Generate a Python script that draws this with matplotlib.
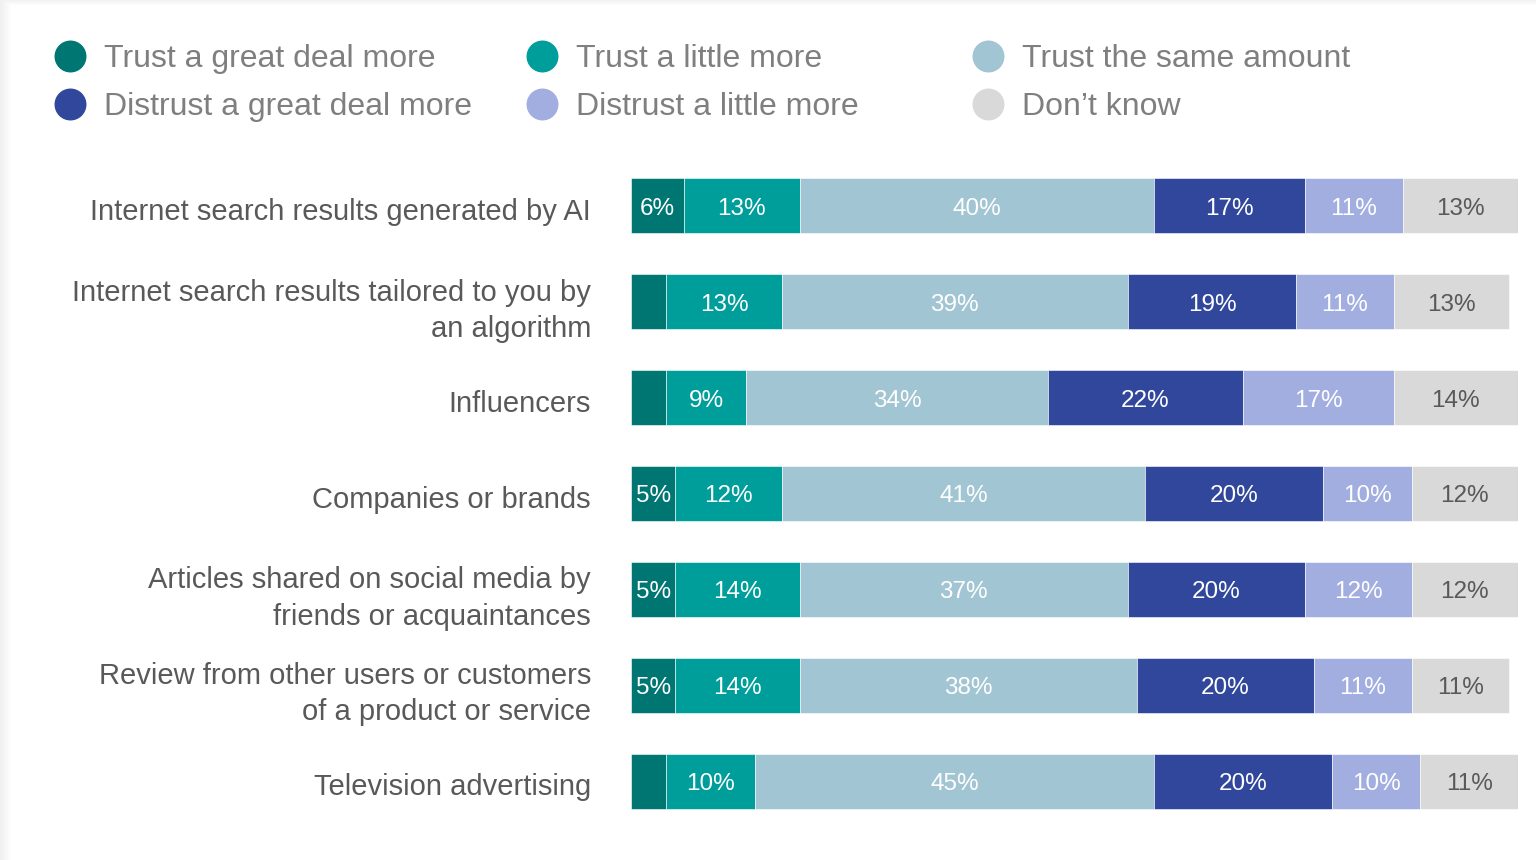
import numpy as np
import matplotlib
matplotlib.use("Agg")
import matplotlib.pyplot as plt
import matplotlib.transforms as mtransforms
from matplotlib.lines import Line2D

plt.rcParams['font.family'] = ['Liberation Sans', 'DejaVu Sans']

categories = [
    "Internet search results generated by AI",
    "Internet search results tailored to you by\nan algorithm",
    "Influencers",
    "Companies or brands",
    "Articles shared on social media by\nfriends or acquaintances",
    "Review from other users or customers\nof a product or service",
    "Television advertising",
]

series_names = [
    "Trust a great deal more",
    "Trust a little more",
    "Trust the same amount",
    "Distrust a great deal more",
    "Distrust a little more",
    "Don\u2019t know",
]

trust_great = [6, 4, 4, 5, 5, 5, 4]
trust_little = [13, 13, 9, 12, 14, 14, 10]
trust_same = [40, 39, 34, 41, 37, 38, 45]
distrust_great = [17, 19, 22, 20, 20, 20, 20]
distrust_little = [11, 11, 17, 10, 12, 11, 10]
dont_know = [13, 13, 14, 12, 12, 11, 11]

series = [trust_great, trust_little, trust_same,
          distrust_great, distrust_little, dont_know]
colors = ["#007672", "#009E9A", "#A2C5D3", "#30479C", "#A2AEE0", "#D9D9D9"]
label_colors = ["white", "white", "white", "white", "white", "#595959"]

W, H = 1536, 860
fig = plt.figure(figsize=(W / 100, H / 100), dpi=100)
fig.patch.set_facecolor("white")

# soft card shadow along the left and top edges
bg = fig.add_axes([0, 0, 1, 1], zorder=-10)
bg.set_xlim(0, W)
bg.set_ylim(H, 0)
bg.axis("off")
xs = np.arange(W)
ys = np.arange(H)
left = np.clip(1 - xs / 11.0, 0, 1)[None, :]
top = np.clip(1 - ys / 5.0, 0, 1)[:, None]
shade = np.maximum(left * 0.06, top * 0.05)
img = np.ones((H, W, 3)) * (1 - shade)[..., None]
bg.imshow(img, extent=(0, W, H, 0), aspect="auto", interpolation="bilinear")

ax = fig.add_axes([631 / W, 1 - 829 / H, (1518 - 631) / W, 671 / H])
ax.set_facecolor("none")

y = np.arange(len(categories))
lefts = np.zeros(len(categories))
for vals, col, lcol in zip(series, colors, label_colors):
    vals = np.array(vals, dtype=float)
    bars = ax.barh(y, vals, left=lefts, height=0.575, color=col,
                   edgecolor="white", linewidth=0.4)
    for rect, v in zip(bars, vals):
        if v >= 5:
            ax.text(rect.get_x() + rect.get_width() / 2,
                    rect.get_y() + rect.get_height() / 2 + 0.03,
                    f"{int(v)}%", ha="center", va="center",
                    color=lcol, fontsize=17.5)
    lefts += vals

ax.set_xlim(0, 100)
ax.set_ylim(len(categories) - 0.5, -0.5)
ax.set_yticks([])
ax.set_xticks([])
for s in ax.spines.values():
    s.set_visible(False)

# category labels, right-aligned 40 px left of the bars
blend = mtransforms.blended_transform_factory(ax.transAxes, ax.transData)
for yi, cat in zip(y, categories):
    dy = -9 if "\n" in cat else -6
    tf = blend + mtransforms.ScaledTranslation(-40 / 100, dy / 100,
                                               fig.dpi_scale_trans)
    ax.text(0, yi, cat, transform=tf, ha="right", va="center",
            fontsize=21, color="#595959", linespacing=1.38,
            multialignment="right")

# legend: three columns of two entries
leg_cols = [(70, 104), (542, 576), (988, 1022)]
leg_rows = [56, 104]
order = [(0, 0, 0), (3, 0, 1), (1, 1, 0), (4, 1, 1), (2, 2, 0), (5, 2, 1)]
for idx, c, r in order:
    mx, tx = leg_cols[c]
    yy = 1 - leg_rows[r] / H
    fig.add_artist(Line2D([mx / W], [yy], marker="o", markersize=22,
                          color=colors[idx], linestyle="none",
                          transform=fig.transFigure))
    fig.text(tx / W, yy - 3 / H, series_names[idx], ha="left", va="center",
             fontsize=23, color="#7F7F7F")

fig.savefig("out.png", dpi=100, facecolor="white")
